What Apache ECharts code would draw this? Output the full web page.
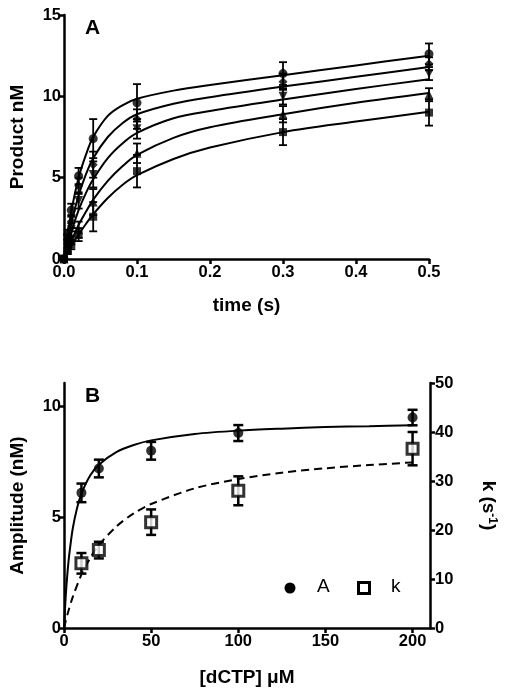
<!DOCTYPE html>
<html>
<head>
<meta charset="utf-8">
<script src="https://cdn.jsdelivr.net/npm/echarts@6/dist/echarts.min.js"></script>
<style>html,body{margin:0;padding:0;background:#fff}#c{width:512px;height:698px}</style>
</head>
<body>
<div id="c"></div>
<script>
// ---------- Panel A data ----------
const timePts = [0, 0.005, 0.01, 0.02, 0.04, 0.1, 0.3, 0.5];
const prodS1 = [0, 1.5, 3.0, 5.1, 7.4, 9.6, 11.4, 12.6];
const prodS2 = [0, 1.2, 2.3, 4.5, 5.8, 8.6, 10.9, 12.0];
const prodS3 = [0, 0.9, 1.8, 3.6, 5.2, 8.0, 10.0, 11.4];
const prodS4 = [0, 0.7, 1.3, 1.8, 3.5, 6.5, 8.9, 10.1];
const prodS5 = [0, 0.5, 0.9, 1.5, 2.6, 5.4, 7.8, 9.0];
const errS1 = [0, 0.3, 0.4, 0.5, 1.2, 1.15, 0.7, 0.65];
const errS2 = [0, 0.3, 0.4, 0.5, 0.8, 0.6, 0.5, 0.4];
const errS3 = [0, 0.3, 0.4, 0.5, 0.8, 0.6, 0.5, 0.4];
const errS4 = [0, 0.3, 0.4, 0.5, 0.8, 0.6, 0.5, 0.4];
const errS5 = [0, 0.2, 0.3, 0.4, 0.9, 1.0, 0.8, 0.8];
const timeFit = [0, 0.01, 0.02, 0.03, 0.04, 0.06, 0.08, 0.1, 0.15, 0.2, 0.3, 0.4, 0.5];
const fitS1 = [0, 2.9, 5.0, 6.4, 7.5, 8.8, 9.45, 9.85, 10.35, 10.7, 11.3, 11.9, 12.5];
const fitS2 = [0, 2.2, 3.9, 5.2, 6.2, 7.5, 8.35, 8.9, 9.55, 9.95, 10.6, 11.2, 11.8];
const fitS3 = [0, 1.65, 3.0, 4.05, 4.9, 6.2, 7.1, 7.75, 8.65, 9.1, 9.8, 10.45, 11.05];
const fitS4 = [0, 1.1, 2.1, 2.9, 3.65, 4.8, 5.7, 6.4, 7.45, 8.1, 8.9, 9.6, 10.2];
const fitS5 = [0, 0.8, 1.5, 2.15, 2.75, 3.75, 4.55, 5.15, 6.15, 6.85, 7.8, 8.45, 9.05];
const timeTicks = ['0.0', '0.1', '0.2', '0.3', '0.4', '0.5'];

// ---------- Panel B data ----------
const dctp = [10, 20, 50, 100, 200];
const ampA = [6.1, 7.2, 8.0, 8.8, 9.5];
const ampErr = [0.42, 0.4, 0.4, 0.36, 0.35];
const rateK = [13.2, 15.9, 21.6, 28.0, 36.6];
const rateErr = [2.1, 1.7, 2.6, 2.95, 3.4];
const dctpFit = [0, 1, 2, 3, 5, 7.5, 10, 15, 20, 30, 40, 50, 75, 100, 125, 150, 175, 200];
const ampFit = [0, 1.45, 2.5, 3.3, 4.48, 5.42, 6.06, 6.88, 7.37, 7.94, 8.26, 8.47, 8.76, 8.91, 9.0, 9.07, 9.11, 9.15];
const dctpFitK = [0, 2, 5, 10, 15, 20, 30, 40, 50, 75, 100, 125, 150, 175, 200];
const rateFit = [0, 2.8, 6.3, 10.9, 14.25, 16.9, 20.7, 23.4, 25.3, 28.5, 30.4, 31.7, 32.6, 33.25, 33.8];
const dctpTicks = [0, 50, 100, 150, 200];
const ampTicks = [0, 5, 10];

const FONT = '"Liberation Sans", Arial, sans-serif';
const pair = (xs, ys) => xs.map((x, i) => [x, ys[i]]);
const triple = (xs, ys, es) => xs.map((x, i) => [x, ys[i], es[i]]);

function errBar(capHalf, lw) {
  return function (params, api) {
    const x = api.value(0), y = api.value(1), e = api.value(2);
    if (!e) return null;
    const t = api.coord([x, y + e]);
    const b = api.coord([x, y - e]);
    const st = { stroke: '#000', lineWidth: lw };
    return {
      type: 'group',
      children: [
        { type: 'line', shape: { x1: t[0], y1: t[1], x2: b[0], y2: b[1] }, style: st },
        { type: 'line', shape: { x1: t[0] - capHalf, y1: t[1], x2: t[0] + capHalf, y2: t[1] }, style: st },
        { type: 'line', shape: { x1: b[0] - capHalf, y1: b[1], x2: b[0] + capHalf, y2: b[1] }, style: st }
      ]
    };
  };
}

const axisCommon = {
  axisLine: { show: true, onZero: false, lineStyle: { color: '#000', width: 2.5 } },
  axisTick: { show: true, length: 5, lineStyle: { color: '#000', width: 2.5 } },
  splitLine: { show: false },
  axisLabel: { color: '#000', fontFamily: FONT, fontWeight: 'bold', fontSize: 16.5, margin: 3 },
  nameTextStyle: { color: '#000', fontFamily: FONT, fontWeight: 'bold', fontSize: 19 },
  nameLocation: 'middle'
};
function ax(o) { return Object.assign({}, JSON.parse(JSON.stringify(axisCommon)), o); }

const seriesA = [];
const sets = [
  [prodS1, errS1, fitS1, 'circle', 0],
  [prodS2, errS2, fitS2, 'diamond', 0],
  [prodS3, errS3, fitS3, 'triangle', 180],
  [prodS4, errS4, fitS4, 'triangle', 0],
  [prodS5, errS5, fitS5, 'rect', 0]
];
sets.forEach(([p, e, f, sym, rot]) => {
  seriesA.push({ type: 'custom', xAxisIndex: 0, yAxisIndex: 0, renderItem: errBar(4, 1.8), data: triple(timePts, p, e), z: 2, silent: true });
  seriesA.push({ type: 'line', xAxisIndex: 0, yAxisIndex: 0, data: pair(timeFit, f), smooth: 0.35, showSymbol: false, lineStyle: { color: '#000', width: 2 }, z: 3, silent: true });
  seriesA.push({ type: 'scatter', xAxisIndex: 0, yAxisIndex: 0, data: pair(timePts, p), symbol: sym, symbolRotate: rot, symbolSize: sym === 'rect' ? 8 : 9, itemStyle: { color: '#000' }, z: 4, silent: true });
});

const option = {
  animation: false,
  backgroundColor: '#fff',
  grid: [
    { left: 64, right: 83, top: 15, height: 244 },
    { left: 64, right: 82, top: 383, height: 245 }
  ],
  xAxis: [
    ax({ gridIndex: 0, type: 'value', min: 0, max: 0.5, interval: 0.1, name: 'time (s)', nameGap: 37,
      axisLabel: Object.assign({}, axisCommon.axisLabel, { margin: 5, formatter: (v) => timeTicks[Math.round(v * 10)] }) }),
    ax({ gridIndex: 1, type: 'value', min: 0, max: 210, name: '[dCTP] \u03bcM', nameGap: 40,
      axisTick: Object.assign({}, axisCommon.axisTick, { customValues: dctpTicks }),
      axisLabel: Object.assign({}, axisCommon.axisLabel, { margin: 5, customValues: dctpTicks }) })
  ],
  yAxis: [
    ax({ gridIndex: 0, type: 'value', min: 0, max: 15, interval: 5, name: 'Product nM', nameGap: 37 }),
    ax({ gridIndex: 1, type: 'value', min: 0, max: 11.06, name: 'Amplitude (nM)', nameGap: 37,
      axisTick: Object.assign({}, axisCommon.axisTick, { customValues: ampTicks }),
      axisLabel: Object.assign({}, axisCommon.axisLabel, { customValues: ampTicks }) }),
    ax({ gridIndex: 1, type: 'value', position: 'right', min: 0, max: 50, interval: 10,
      name: 'k (s{sup|-1})', nameGap: 48, nameRotate: -90,
      axisLabel: Object.assign({}, axisCommon.axisLabel, { margin: 5 }),
      nameTextStyle: { color: '#000', fontFamily: FONT, fontWeight: 'bold', fontSize: 19,
        rich: { sup: { fontSize: 12, fontWeight: 'bold', fontFamily: FONT, color: '#000', verticalAlign: 'top', padding: [0, 0, 8, 0] } } } })
  ],
  graphic: [
    { type: 'text', left: 85, top: 18, style: { text: 'A', font: 'bold 21px ' + FONT, fill: '#000' } },
    { type: 'text', left: 85, top: 386, style: { text: 'B', font: 'bold 21px ' + FONT, fill: '#000' } },
    { type: 'circle', shape: { cx: 290, cy: 588, r: 5.5 }, style: { fill: '#000' } },
    { type: 'text', left: 317, top: 577, style: { text: 'A', font: '19px ' + FONT, fill: '#000' } },
    { type: 'rect', shape: { x: 358.5, y: 582.5, width: 11, height: 11 }, style: { fill: '#fff', stroke: '#000', lineWidth: 3 } },
    { type: 'text', left: 391, top: 577, style: { text: 'k', font: '19px ' + FONT, fill: '#000' } }
  ],
  series: seriesA.concat([
    { type: 'custom', xAxisIndex: 1, yAxisIndex: 1, renderItem: errBar(5, 2.5), data: triple(dctp, ampA, ampErr), z: 2, silent: true },
    { type: 'custom', xAxisIndex: 1, yAxisIndex: 2, renderItem: errBar(5, 2.5), data: triple(dctp, rateK, rateErr), z: 2, silent: true },
    { type: 'line', xAxisIndex: 1, yAxisIndex: 1, data: pair(dctpFit, ampFit), smooth: 0.3, showSymbol: false, lineStyle: { color: '#000', width: 2 }, z: 3, silent: true },
    { type: 'line', xAxisIndex: 1, yAxisIndex: 2, data: pair(dctpFitK, rateFit), smooth: 0.3, showSymbol: false, lineStyle: { color: '#000', width: 2, type: [8, 5] }, z: 3, silent: true },
    { type: 'scatter', name: 'A', xAxisIndex: 1, yAxisIndex: 1, data: pair(dctp, ampA), symbol: 'circle', symbolSize: 10, itemStyle: { color: '#000' }, z: 4, silent: true },
    { type: 'scatter', name: 'k', xAxisIndex: 1, yAxisIndex: 2, data: pair(dctp, rateK), symbol: 'rect', symbolSize: 11, itemStyle: { color: '#fff', borderColor: '#000', borderWidth: 3 }, z: 4, silent: true }
  ])
};

const chart = echarts.init(document.getElementById('c'), null, { renderer: 'canvas' });
chart.setOption(option);
</script>
</body>
</html>
